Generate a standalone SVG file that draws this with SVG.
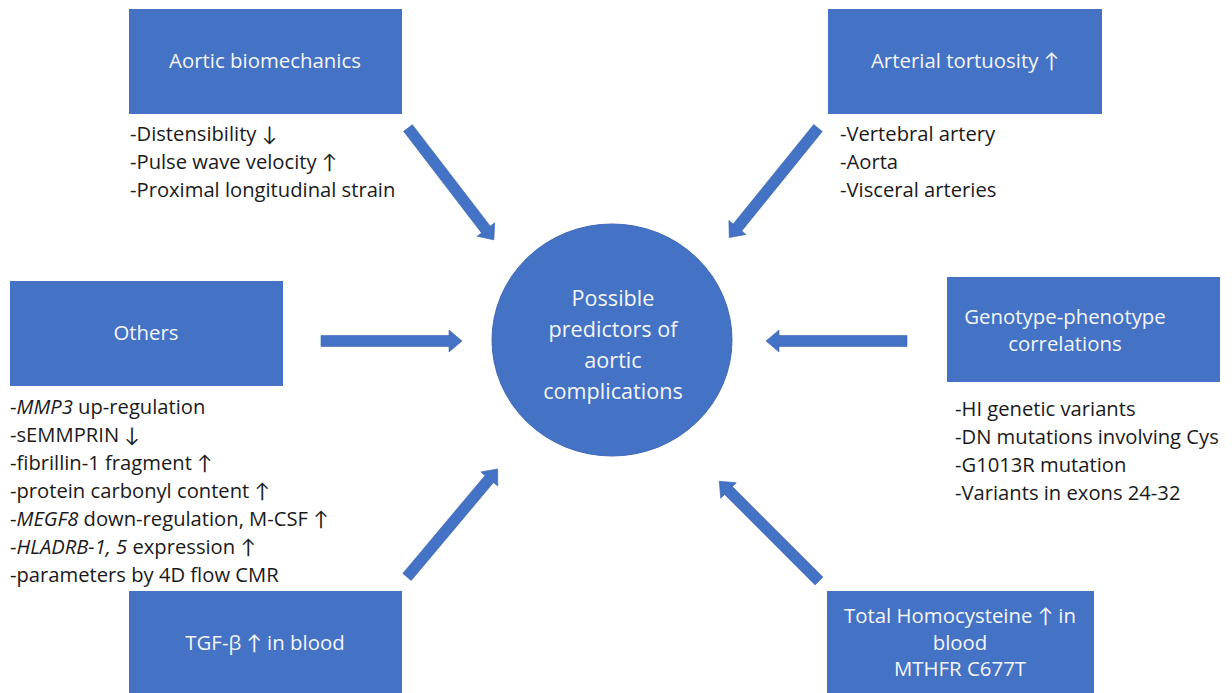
<svg xmlns="http://www.w3.org/2000/svg" width="1232" height="693" viewBox="0 0 1232 693">
  <style>
    .box { fill: #4472C4; }
    .hub { fill: #4472C4; stroke: #3F69B5; stroke-width: 1; }
    .arrow { fill: #4472C4; stroke: #3A65B0; stroke-width: 0.6; }
    .title { font-family: "Open Sans", Lato, "DejaVu Sans", sans-serif; font-size: 20.4px; fill: #F4F6FB; text-anchor: middle; }
    .hubtext { font-family: "Open Sans", Lato, "DejaVu Sans", sans-serif; font-size: 21.6px; fill: #F4F6FB; text-anchor: middle; }
    .list { font-family: "Open Sans", Lato, "DejaVu Sans", sans-serif; font-size: 20.2px; fill: #1A1A1A; }
    .it { font-style: italic; }
  </style>
  <defs>
    <!-- block arrow pointing along +x, tail at origin -->
    <path id="blockArrow" d="M0,-5.5 H128 V-11 L141,0 L128,11 V5.5 H0 Z"/>
  </defs>

  <rect width="1232" height="693" fill="#FFFFFF"/>

  <!-- connectors -->
  <g id="connectors" class="arrow">
    <use href="#blockArrow" transform="translate(408,128) rotate(52.5)"/>
    <use href="#blockArrow" transform="translate(818,128) rotate(129)"/>
    <use href="#blockArrow" transform="translate(321,341)"/>
    <use href="#blockArrow" transform="translate(907,341) rotate(180)"/>
    <use href="#blockArrow" transform="translate(407,577) rotate(-50)"/>
    <use href="#blockArrow" transform="translate(819,581) rotate(-135)"/>
  </g>

  <!-- central node -->
  <g id="predictors">
    <ellipse class="hub" cx="612" cy="340" rx="120" ry="116"/>
    <text class="hubtext" x="613" y="306">Possible</text>
    <text class="hubtext" x="613" y="337">predictors of</text>
    <text class="hubtext" x="613" y="368">aortic</text>
    <text class="hubtext" x="613" y="399">complications</text>
  </g>

  <g id="aortic-biomechanics">
    <rect class="box" x="129" y="9" width="273" height="105"/>
    <text class="title" x="265" y="68">Aortic biomechanics</text>
    <text class="list" x="130" y="141">-Distensibility ↓</text>
    <text class="list" x="130" y="169">-Pulse wave velocity ↑</text>
    <text class="list" x="130" y="197">-Proximal longitudinal strain</text>
  </g>

  <g id="arterial-tortuosity">
    <rect class="box" x="828" y="9" width="274" height="105"/>
    <text class="title" x="965" y="68">Arterial tortuosity ↑</text>
    <text class="list" x="840" y="141">-Vertebral artery</text>
    <text class="list" x="840" y="169">-Aorta</text>
    <text class="list" x="840" y="197">-Visceral arteries</text>
  </g>

  <g id="others">
    <rect class="box" x="10" y="281" width="273" height="105"/>
    <text class="title" x="146" y="340">Others</text>
    <text class="list" x="10" y="414">-<tspan class="it">MMP3</tspan> up-regulation</text>
    <text class="list" x="10" y="442">-sEMMPRIN ↓</text>
    <text class="list" x="10" y="470">-fibrillin-1 fragment ↑</text>
    <text class="list" x="10" y="498">-protein carbonyl content ↑</text>
    <text class="list" x="10" y="526">-<tspan class="it">MEGF8</tspan> down-regulation, M-CSF ↑</text>
    <text class="list" x="10" y="554">-<tspan class="it">HLADRB-1, 5</tspan> expression ↑</text>
    <text class="list" x="10" y="582">-parameters by 4D flow CMR</text>
  </g>

  <g id="genotype-phenotype">
    <rect class="box" x="947" y="277" width="273" height="105"/>
    <text class="title" x="1065" y="324">Genotype-phenotype</text>
    <text class="title" x="1065" y="351">correlations</text>
    <text class="list" x="955" y="416">-HI genetic variants</text>
    <text class="list" x="955" y="444">-DN mutations involving Cys</text>
    <text class="list" x="955" y="472">-G1013R mutation</text>
    <text class="list" x="955" y="500">-Variants in exons 24-32</text>
  </g>

  <g id="tgf-beta">
    <rect class="box" x="129" y="591" width="273" height="110"/>
    <text class="title" x="265" y="650">TGF-β ↑ in blood</text>
  </g>

  <g id="homocysteine">
    <rect class="box" x="827" y="591" width="267" height="110"/>
    <text class="title" x="960" y="623">Total Homocysteine ↑ in</text>
    <text class="title" x="960" y="650">blood</text>
    <text class="title" x="960" y="676">MTHFR C677T</text>
  </g>
</svg>
